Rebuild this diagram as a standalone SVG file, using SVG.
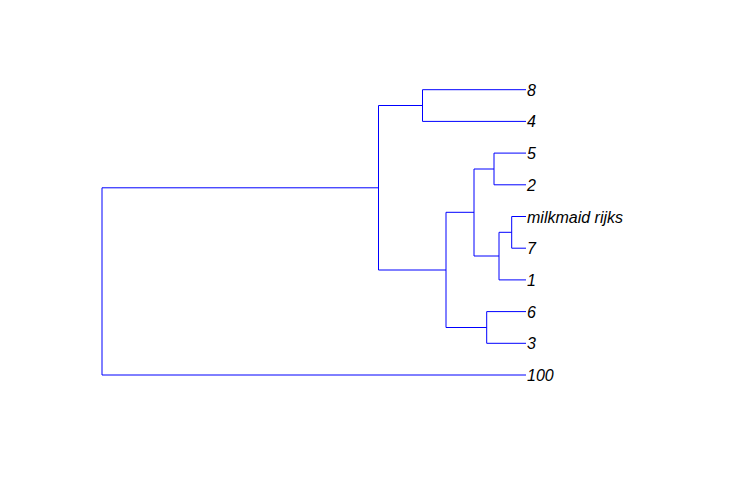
<svg xmlns="http://www.w3.org/2000/svg" width="754" height="484" viewBox="0 0 754 484">
<style>
.e{fill:none;stroke:#0000ff;stroke-width:1}
.t{font-family:"Liberation Sans",Arial,sans-serif;font-style:italic;font-size:16px;fill:#000}
</style>
<rect width="754" height="484" fill="#fff"/>
<g id="edges">
<path class="e" d="M102,187.8 V375 H526 M102,187.8 H378.5 M378.5,105.5 V270 M378.5,105.5 H422.5 M422.5,89.7 V121.4 M422.5,89.7 H526 M422.5,121.4 H526 M378.5,270 H446 M446,212.3 V327.5 M446,212.3 H474 M474,169 V256 M474,169 H494 M494,153.1 V184.8 M494,153.1 H526 M494,184.8 H526 M474,256 H499 M499,232.3 V279.9 M499,232.3 H511.7 M511.7,216.5 V248.2 M511.7,216.5 H526 M511.7,248.2 H526 M499,279.9 H526 M446,327.5 H486.7 M486.7,311.6 V343.3 M486.7,311.6 H526 M486.7,343.3 H526"/>
</g>
<g id="n8"><text class="t" x="527" y="95.7">8</text></g>
<g id="n4"><text class="t" x="527" y="127.4">4</text></g>
<g id="n5"><text class="t" x="527" y="159.1">5</text></g>
<g id="n2"><text class="t" x="527" y="190.8">2</text></g>
<g id="nmilkmaid"><text class="t" x="527" y="222.5">milkmaid rijks</text></g>
<g id="n7"><text class="t" x="527" y="254.2">7</text></g>
<g id="n1"><text class="t" x="527" y="285.9">1</text></g>
<g id="n6"><text class="t" x="527" y="317.6">6</text></g>
<g id="n3"><text class="t" x="527" y="349.3">3</text></g>
<g id="n100"><text class="t" x="527" y="381">100</text></g>
</svg>
